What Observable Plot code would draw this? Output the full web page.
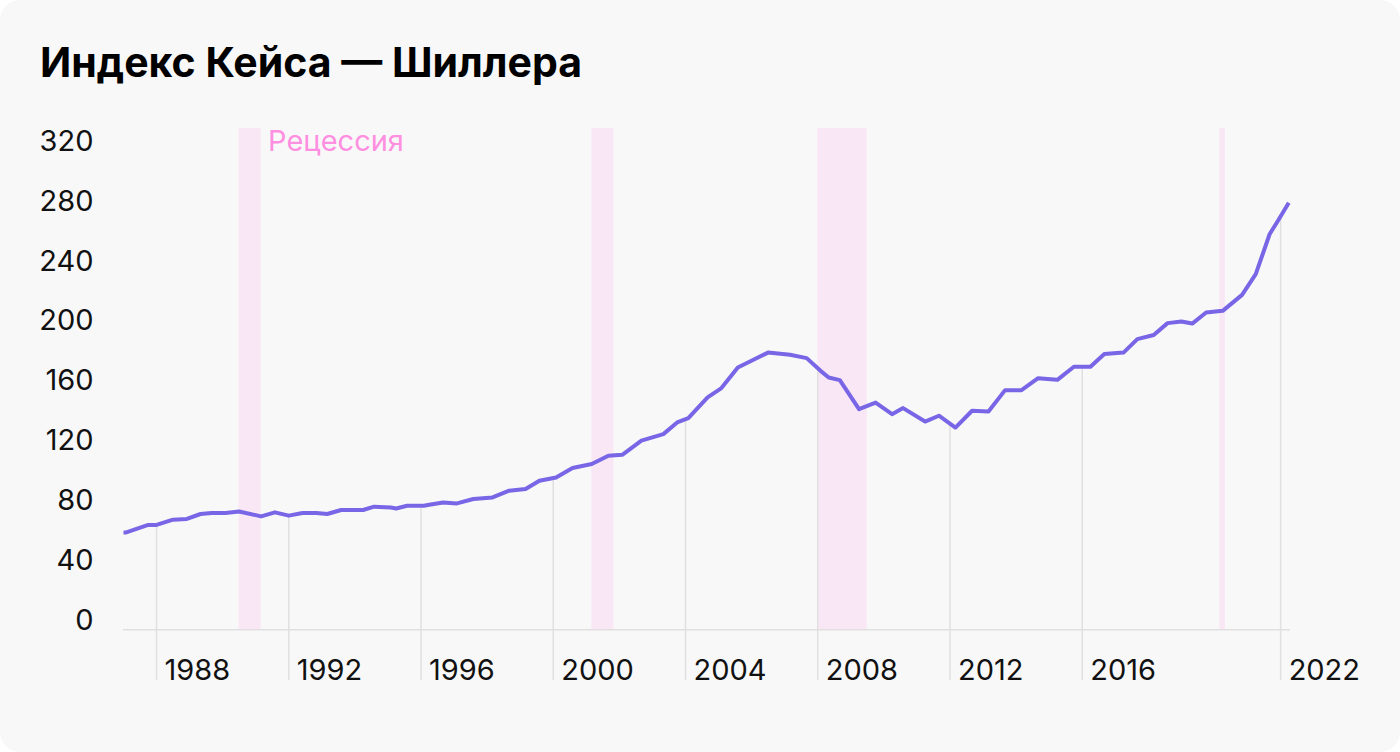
<!DOCTYPE html>
<html>
<head>
<meta charset="utf-8">
<script src="https://cdn.jsdelivr.net/npm/d3@7"></script>
<script src="https://cdn.jsdelivr.net/npm/@observablehq/plot@0.6"></script>
<style>
  html, body { margin: 0; padding: 0; background: #ffffff; }
  #card { position: relative; width: 1400px; height: 752px; background: #f8f8f8; border-radius: 20px; overflow: hidden; font-family: Inter, "Noto Sans", sans-serif; }
  #title { position: absolute; left: 40px; top: 42px; font-size: 41px; line-height: 41px; font-weight: 700; color: #000; white-space: nowrap; }
  #chart { position: absolute; left: 0; top: 0; }
</style>
</head>
<body>
<div id="card">
  <div id="chart"></div>
  <div id="title">Индекс Кейса — Шиллера</div>
</div>
<script>
// Case–Shiller index
const dates = ["1987-01","1987-02","1987-10","1988-01","1988-07","1988-12","1989-05","1989-09","1990-02","1990-07",
  "1991-03","1991-08","1992-01","1992-06","1992-11","1993-03","1993-08","1994-04","1994-08","1995-02",
  "1995-04","1995-08","1996-02","1996-04","1996-09","1997-02","1997-08","1998-03","1998-09","1999-03",
  "1999-08","2000-02","2000-08","2001-03","2001-09","2002-02","2002-09","2003-05","2003-10","2004-02",
  "2004-09","2005-02","2005-08","2006-02","2006-07","2007-03","2007-09","2008-02","2008-05","2008-09",
  "2009-04","2009-10","2010-04","2010-08","2011-04","2011-09","2012-03","2012-09","2013-03","2013-09",
  "2014-03","2014-09","2015-04","2015-10","2016-04","2016-09","2017-04","2017-09","2018-03","2018-08",
  "2019-01","2019-05","2019-10","2020-04","2020-11","2021-04","2021-09","2021-12","2022-04"];
const values = [65,65,70,70,73.5,74,77.3,78,78,79,
  75.7,78.4,76.2,78,78,77.3,80,80,82.2,81.7,
  81,82.8,82.8,83.5,85,84.4,87.3,88.4,92.9,94,
  99.5,101.7,108,110.7,116.2,116.9,126.3,130.7,138.5,141.4,
  155.2,161.5,175.2,180.8,185.2,183.7,181.5,173,168.5,166.8,
  147.4,151.8,144,148.1,139.1,143,135.1,146.3,145.8,160.1,
  160.1,168.1,167,175.7,175.7,184.2,185.2,194.2,197,204.9,
  206,204.6,212,213.1,223.8,237.6,264.3,273.2,285.4];

// Recession periods
const recessionStart = ["1990-07","2001-03","2008-01","2020-03"];
const recessionEnd   = ["1991-03","2001-11","2009-07","2020-05"];
const recessionLabel = "Рецессия";

// Axis ticks
const xTickYears = ["1988","1992","1996","2000","2004","2008","2012","2016","2022"];
const yTicks = [0, 40, 80, 120, 160, 200, 240, 280, 320];

const parseM = d3.utcParse("%Y-%m");
const parseY = d3.utcParse("%Y");
const n = Math.min(dates.length, values.length);
const series = d3.range(n).map(i => ({date: parseM(dates[i]), value: values[i]}));
const recessions = recessionStart.map((s, i) => ({start: parseM(s), end: parseM(recessionEnd[i])}));
const xTicks = xTickYears.map(y => ({date: parseY(y), label: y}));

// value of the series at a tick date (so the vertical guide ends on the line)
function valueAt(t) {
  const i = d3.bisector(d => d.date).right(series, t) - 1;
  if (i < 0) return series[0].value;
  if (i >= series.length - 1) return series[series.length - 1].value;
  const a = series[i], b = series[i + 1];
  const f = (t - a.date) / (b.date - a.date);
  return a.value + f * (b.value - a.value);
}
xTicks.forEach(d => d.top = valueAt(d.date));

const Y_TOP = 335, Y_BOTTOM = -34;
const gridColor = "#e0e0e0";

const chart = Plot.plot({
  width: 1400,
  height: 752,
  marginTop: 128,
  marginBottom: 72,
  marginLeft: 123,
  marginRight: 110,
  style: {background: "transparent", fontFamily: "Inter, 'Noto Sans', sans-serif", fontSize: "29px", color: "#000"},
  x: {type: "utc", domain: [parseM("1987-01"), new Date(Date.UTC(2022, 3, 20))], axis: null},
  y: {domain: [Y_BOTTOM, Y_TOP], axis: null},
  marks: [
    Plot.rectX(recessions, {x1: "start", x2: "end", y1: 0, y2: Y_TOP, fill: "#f9e7f6"}),
    Plot.ruleX(xTicks, {x: "date", y1: Y_BOTTOM, y2: "top", stroke: gridColor, strokeWidth: 1.5}),
    Plot.ruleY([0], {stroke: gridColor, strokeWidth: 1.5}),
    Plot.line(series, {x: "date", y: "value", stroke: "#7866e6", strokeWidth: 4, strokeLinejoin: "round", strokeLinecap: "butt"}),
    Plot.text(yTicks, {y: d => d, text: d => String(d), frameAnchor: "left", textAnchor: "end", dx: -30, lineAnchor: "bottom", fill: "#111", fontSize: 29}),
    Plot.text(xTicks, {x: "date", y: Y_BOTTOM, text: "label", textAnchor: "start", dx: 8, lineAnchor: "bottom", dy: -1, fill: "#111", fontSize: 29}),
    Plot.text([recessions[0]], {x: "end", y: 320, text: () => recessionLabel, textAnchor: "start", dx: 7, lineAnchor: "bottom", fill: "#ff8fe0", fontSize: 29})
  ]
});
document.getElementById("chart").appendChild(chart);
</script>
</body>
</html>
